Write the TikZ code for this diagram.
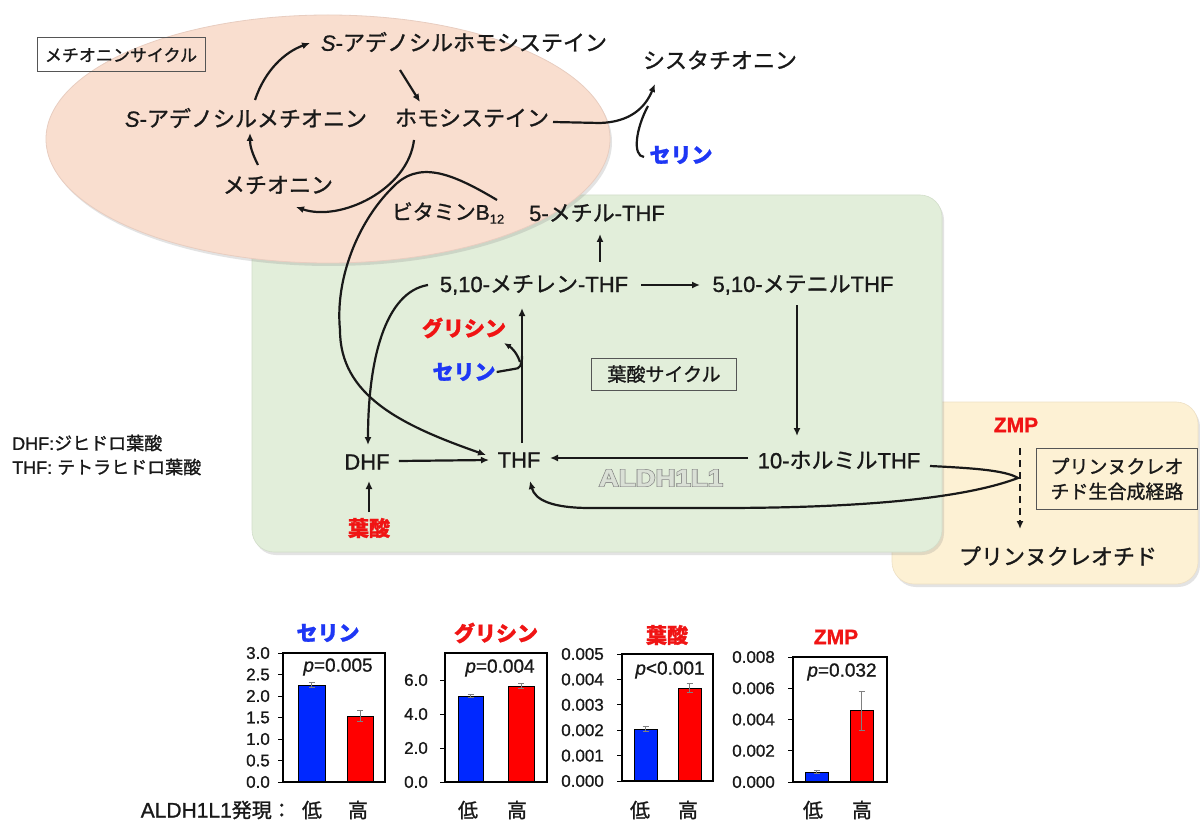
\documentclass[tikz,border=0pt]{standalone}
\usepackage{fontspec}
\setmainfont{Noto Sans CJK JP}[FakeBold=1.2]
\newfontfamily\lat{Liberation Sans}[FakeBold=1]
\newfontfamily\thicklat{Liberation Sans}[FakeBold=6]
\usetikzlibrary{arrows.meta,shadows}
\definecolor{pnk}{RGB}{249,222,207}
\definecolor{pnkd}{RGB}{232,205,192}
\definecolor{grn}{RGB}{226,238,218}
\definecolor{grnd}{RGB}{210,222,202}
\definecolor{ylw}{RGB}{253,241,212}
\definecolor{ylwd}{RGB}{238,224,196}
\definecolor{txt}{RGB}{25,25,25}
\definecolor{boxgray}{RGB}{85,85,85}
\definecolor{bluet}{RGB}{30,55,245}
\definecolor{redt}{RGB}{240,20,20}
\definecolor{barblue}{RGB}{0,40,255}
\definecolor{barred}{RGB}{255,0,0}
\definecolor{aldhout}{RGB}{125,125,125}
\definecolor{aldhin}{RGB}{218,224,214}
\tikzset{
 lbl/.style={font=\fontsize{22}{26}\selectfont, text=txt, inner sep=1pt},
 lab/.style={draw=boxgray, line width=1pt, text=txt, inner sep=3pt},
 arr/.style={line width=2.2pt, draw=txt, -{Latex[length=8pt,width=7pt]}},
 ln/.style={line width=2.2pt, draw=txt},
 pframe/.style={line width=1.8pt, draw=black},
 barb/.style={fill=barblue, draw=black, line width=0.8pt},
 barr/.style={fill=barred, draw=black, line width=0.8pt},
 err/.style={draw=gray, line width=1pt, {Bar[width=6pt]}-{Bar[width=6pt]}},
 tk/.style={line width=1pt, draw=black},
 ticklbl/.style={font=\lat\fontsize{17}{20}\selectfont, anchor=east, inner sep=0pt, text=txt},
 pval/.style={font=\lat\fontsize{19}{22}\selectfont, inner sep=0pt, text=txt},
 ctitle/.style={font=\bfseries\fontsize{21}{24}\selectfont, inner sep=0pt},
 lowhigh/.style={font=\fontsize{20}{24}\selectfont, inner sep=0pt, text=txt},
 shad/.style={drop shadow={opacity=0.22, shadow xshift=2pt, shadow yshift=-3pt}}
}
\begin{document}
\begin{tikzpicture}[x=1pt,y=-1pt]
\useasboundingbox (0,0) rectangle (1200,821);
\fill[white] (0,0) rectangle (1200,821);
% background regions
\filldraw[fill=ylw, draw=ylwd, line width=0.6pt, rounded corners=22pt, shad] (892,402) rectangle (1198,584);
\filldraw[fill=grn, draw=grnd, line width=0.6pt, rounded corners=22pt, shad] (252,195) rectangle (942,552);
\filldraw[fill=pnk, draw=pnkd, line width=0.8pt, shad] (328,139) ellipse [x radius=282, y radius=124];

% labels in boxes
\node[lab, font=\fontsize{17}{20}\selectfont, minimum width=168pt, minimum height=34pt] (mcyc) at (121,55) {メチオニンサイクル};
\node[lab, font=\fontsize{19}{22}\selectfont, minimum width=145pt, minimum height=32pt] (fcyc) at (664,374) {葉酸サイクル};
\node[lab, font=\fontsize{19}{25}\selectfont, align=left, minimum width=161pt, minimum height=61pt] (pbox) at (1117,479) {プリンヌクレオ\\チド生合成経路};

% methionine cycle
\node[lbl] (sah) at (464,42) {{\lat\itshape S}{\lat -}アデノシルホモシステイン};
\node[lbl] (sam) at (246,118) {{\lat\itshape S}{\lat -}アデノシルメチオニン};
\node[lbl] (hcy) at (472,118) {ホモシステイン};
\node[lbl] (met) at (278,185) {メチオニン};
\node[lbl, font=\fontsize{21}{24}\selectfont] (b12) at (448,213) {ビタミン{\lat B}\raisebox{-0.35ex}{\lat\fontsize{13}{14}\selectfont 12}};
\node[lbl] (cys) at (720,60) {シスタチオニン};
\node[lbl, text=bluet, font=\bfseries\fontsize{21}{24}\selectfont] (ser1) at (681,155) {セリン};

% folate cycle
\node[lbl] (mthf5) at (597,213) {{\lat 5-}メチル{\lat -THF}};
\node[lbl] (mthf510) at (534,285) {{\lat 5,10-}メチレン{\lat -THF}};
\node[lbl] (menyl) at (803,285) {{\lat 5,10-}メテニル{\lat THF}};
\node[lbl, text=redt, font=\bfseries\fontsize{21}{24}\selectfont] (gly) at (464,328) {グリシン};
\node[lbl, text=bluet, font=\bfseries\fontsize{21}{24}\selectfont] (ser2) at (464,372) {セリン};
\node[lbl, font=\lat\fontsize{22}{26}\selectfont] (dhf) at (367,462) {DHF};
\node[lbl, font=\lat\fontsize{22}{26}\selectfont] (thf) at (519,460) {THF};
\node[lbl] (fthf) at (839,460) {{\lat 10-}ホルミル{\lat THF}};
\node[lbl, text=redt, font=\bfseries\fontsize{21}{24}\selectfont] (fol) at (369,528) {葉酸};
\node[inner sep=0pt, text=aldhout, font=\thicklat\bfseries\fontsize{24}{26}\selectfont] (aldh) at (661,478) {\scalebox{1.15}[1]{ALDH1L1}};
\node[inner sep=0pt, text=aldhin, font=\lat\bfseries\fontsize{24}{26}\selectfont] (aldhin) at (661,478) {\scalebox{1.15}[1]{ALDH1L1}};
\node[anchor=west, inner sep=0pt, text=txt, font=\fontsize{18}{20}\selectfont] (leg1) at (12,443) {{\lat DHF:}ジヒドロ葉酸};
\node[anchor=west, inner sep=0pt, text=txt, font=\fontsize{18}{20}\selectfont] (leg2) at (12,467) {{\lat THF: }テトラヒドロ葉酸};

% purine
\node[lbl, text=redt, font=\lat\bfseries\fontsize{21}{24}\selectfont] (zmp) at (1016,425) {ZMP};
\node[lbl] (pur) at (1058,556) {プリンヌクレオチド};

% ---- connectors: methionine cycle
\coordinate (samtop) at (255,100);
\coordinate (sahleft) at (310,43);
\draw[arr] (samtop) .. controls (265,70) and (285,52) .. (sahleft);
\draw[arr] (400,70) -- (420,102);
\coordinate (mettop) at (258,165);
\draw[arr] (mettop) .. controls (252,153) and (250,146) .. (250,133);
\coordinate (hcybot) at (414,140);
\draw[arr] (hcybot) .. controls (408,190) and (340,222) .. (296,207);
% homocysteine -> cystathionine
\coordinate (hcyend) at (553,122);
\draw[arr] (hcyend) -- (600,123) .. controls (630,122) and (645,108) .. (655,84);
\coordinate (serhook) at (644,157);
\draw[ln] (serhook) .. controls (632,156) and (636,128) .. (648,106);
% 5-methyl-THF -> THF via B12
\coordinate (b12start) at (497,200);
\draw[arr] (b12start) .. controls (450,172) and (418,160) .. (392,188)
  .. controls (357,223) and (335,280) .. (340,330)
  .. controls (340,395) and (400,425) .. (486,455);

% ---- folate cycle connectors
\coordinate (mlleft) at (428,285);
\draw[arr] (mlleft) .. controls (385,292) and (368,360) .. (368,445);
\draw[arr] (522,443) -- (522,308);
\draw[ln] (ser2.east) -- (514,369) .. controls (520,369) and (522,365) .. (522,356);
\draw[arr, -{Latex[length=7pt,width=6pt]}] (520,362) .. controls (517,353) and (512,348) .. (504,343);
\draw[arr] (dhf.east) ++(8,-1) -- (489,460);
\draw[arr] (369,512) -- (369,481);
\draw[arr] (641,285) -- (700,285);
\draw[arr] (600,262) -- (600,234);
\draw[arr] (797,305) -- (797,436);
\draw[arr] (748,458) -- (550,458);
\coordinate (fthfright) at (930,466);
\coordinate (zj) at (1018,478);
\draw[arr] (fthfright) .. controls (970,468) and (1005,470) .. (zj)
  .. controls (960,500) and (850,508) .. (720,508) -- (590,508)
  .. controls (552,508) and (535,500) .. (530,481);
\draw[arr, dashed, dash pattern=on 7pt off 5pt] (1020,448) -- (1020,529);

% ---- bar charts
% chart 1: serine
\node[ctitle, text=bluet] (t1) at (328,633) {セリン};
\foreach \v [count=\i from 0] in {0.0,0.5,1.0,1.5,2.0,2.5,3.0} {
  \draw[tk] (278,{782-\i*21.5}) -- (283,{782-\i*21.5});
  \node[ticklbl] (c1t\i) at (270,{782-\i*21.5}) {\v};
}
\draw[barb] (298,782) rectangle (325,685);
\draw[barr] (347,782) rectangle (373,716);
\draw[err] (311.5,682) -- (311.5,688);
\draw[err] (360,710) -- (360,722);
\draw[pframe] (283,653) rectangle (385,782);
\node[pval] (p1) at (338,667) {\textit{p}=0.005};
\node[lowhigh] (l1) at (312,810) {低};
\node[lowhigh, anchor=east] (xl) at (292,810) {{\lat\fontsize{21}{24}\selectfont ALDH1L1}発現：};
\node[lowhigh] (h1) at (358,810) {高};

% chart 2: glycine
\node[ctitle, text=redt] (t2) at (496,633) {グリシン};
\foreach \v [count=\i from 0] in {0.0,2.0,4.0,6.0} {
  \draw[tk] (440,{782-\i*34}) -- (445,{782-\i*34});
  \node[ticklbl] (c2t\i) at (428,{782-\i*34}) {\v};
}
\draw[barb] (458,782) rectangle (483,696);
\draw[barr] (508,782) rectangle (534,686);
\draw[err] (470.5,694) -- (470.5,698);
\draw[err] (521,683) -- (521,689);
\draw[pframe] (445,653) rectangle (547,782);
\node[pval] (p2) at (500,668) {\textit{p}=0.004};
\node[lowhigh] (l2) at (468,810) {低};
\node[lowhigh] (h2) at (517,810) {高};

% chart 3: folate
\node[ctitle, text=redt] (t3) at (667,635) {葉酸};
\foreach \v [count=\i from 0] in {0.000,0.001,0.002,0.003,0.004,0.005} {
  \draw[tk] (617,{781-\i*25.4}) -- (622,{781-\i*25.4});
  \node[ticklbl] (c3t\i) at (604,{781-\i*25.4}) {\v};
}
\draw[barb] (634,781) rectangle (657,729);
\draw[barr] (678,781) rectangle (701,688);
\draw[err] (645.5,726) -- (645.5,732);
\draw[err] (689.5,683) -- (689.5,693);
\draw[pframe] (622,654) rectangle (713,781);
\node[pval] (p3) at (670,670) {\textit{p}<0.001};
\node[lowhigh] (l3) at (640,810) {低};
\node[lowhigh] (h3) at (688,810) {高};

% chart 4: ZMP
\node[ctitle, text=redt, font=\lat\bfseries\fontsize{21}{24}\selectfont] (t4) at (836,637) {ZMP};
\foreach \v [count=\i from 0] in {0.000,0.002,0.004,0.006,0.008} {
  \draw[tk] (788,{782-\i*31.25}) -- (793,{782-\i*31.25});
  \node[ticklbl] (c4t\i) at (775,{782-\i*31.25}) {\v};
}
\draw[barb] (805,782) rectangle (828,772);
\draw[barr] (850,782) rectangle (873,710);
\draw[err] (816.5,770) -- (816.5,774);
\draw[err] (861.5,691) -- (861.5,731);
\draw[pframe] (793,657) rectangle (887,782);
\node[pval] (p4) at (842,672) {\textit{p}=0.032};
\node[lowhigh] (l4) at (813,810) {低};
\node[lowhigh] (h4) at (862,810) {高};
\end{tikzpicture}
\end{document}
